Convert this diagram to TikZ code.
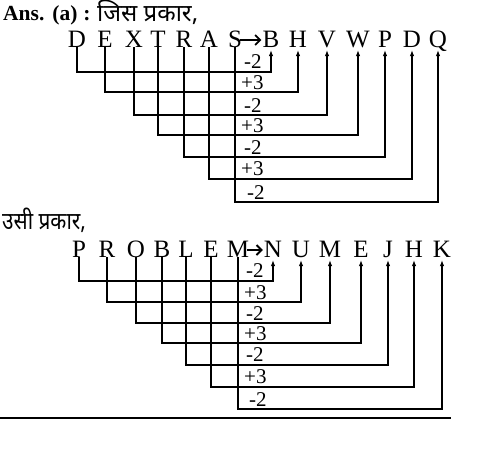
\documentclass[tikz,border=0pt]{standalone}
\usepackage{fontspec}
\setmainfont{Liberation Serif}
\newfontfamily\deva[Script=Devanagari]{Noto Sans}
\usetikzlibrary{arrows.meta}
\begin{document}
\begin{tikzpicture}[x=1pt,y=-1pt,
  letr/.style={inner sep=0pt,anchor=base,font=\fontsize{25}{27}\selectfont},
  lab/.style={inner sep=0pt,anchor=base west,font=\fontsize{21}{23}\selectfont},
  conn/.style={line width=2pt,-{Latex[length=6pt,width=4.4pt]}},
  bigarr/.style={line width=1.8pt,-{Straight Barb[length=5pt,width=10pt,line width=1.8pt]}},
  head/.style={inner sep=0pt,anchor=base west}]
\useasboundingbox (0,0) rectangle (481,448);

% heading
\node[head,font=\fontsize{21.5}{23}\selectfont\bfseries] (ans) at (3,20) {Ans.\hspace{8pt}(a)\hspace{6pt}:};
\node[head,font=\fontsize{24}{26}\selectfont\deva] (jis) at (97,21) {जिस प्रकार,};

% first word
\foreach \n/\x/\t in {a1/77/D,a2/105/E,a3/134/X,a4/158/T,a5/184/R,a6/209/A,a7/235/S,
  b1/271/B,b2/298/H,b3/327/V,b4/358/W,b5/385/P,b6/412/D,b7/438/Q}
  \node[letr] (\n) at (\x,47) {\t};
\draw[bigarr] ([xshift=-2pt]a7.east |- 0,40) -- ([xshift=-1pt]b1.west |- 0,40);
\foreach \i/\y in {1/72,2/92,3/115,4/135,5/157,6/179,7/202}
  \draw[conn] (a\i.base) -- (a\i.base |- 0,\y) -| ([yshift=-3pt]b\i.base);
\foreach \n/\x/\y/\t in {l1/244/68/-2,l2/241/89/+3,l3/244/112/-2,l4/241/132/+3,
  l5/244/154/-2,l6/241/175/+3,l7/247/199/-2}
  \node[lab] (\n) at (\x,\y) {\t};

% second heading
\node[head,font=\fontsize{24}{26}\selectfont\deva] (usi) at (2,229) {\scalebox{0.87}[1]{उसी प्रकार,}};

% second word
\foreach \n/\x/\t in {c1/79/P,c2/107/R,c3/136/O,c4/162/B,c5/186/L,c6/211/E,c7/238/M,
  d1/273/N,d2/301/U,d3/330/M,d4/361/E,d5/388/J,d6/414/H,d7/442/K}
  \node[letr] (\n) at (\x,257) {\t};
\draw[bigarr] ([xshift=-2pt]c7.east |- 0,250) -- ([xshift=-1pt]d1.west |- 0,250);
\foreach \i/\y in {1/281,2/302,3/323,4/343,5/365,6/387,7/409}
  \draw[conn] (c\i.base) -- (c\i.base |- 0,\y) -| ([yshift=-3pt]d\i.base);
\foreach \n/\x/\y/\t in {m1/246/277/-2,m2/244/299/+3,m3/246/320/-2,m4/244/340/+3,
  m5/246/361/-2,m6/244/383/+3,m7/249/406/-2}
  \node[lab] (\n) at (\x,\y) {\t};

% bottom rule
\draw[line width=1.2pt] (0,418) -- (451,418);
\end{tikzpicture}
\end{document}
